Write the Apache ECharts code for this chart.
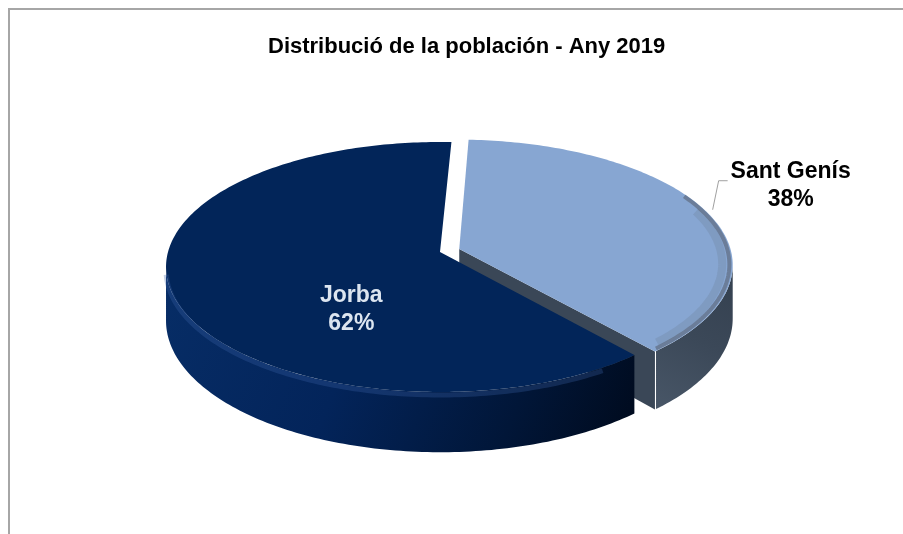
<!DOCTYPE html>
<html><head><meta charset="utf-8">
<script src="https://cdn.jsdelivr.net/npm/echarts@6/dist/echarts.min.js"></script>
<style>html,body{margin:0;padding:0;background:#fff}#c{width:903px;height:534px}</style>
</head><body><div id="c"></div>
<script>
// ---- data ----
const titleText = 'Distribució de la población - Any 2019';
const categories = ['Jorba', 'Sant Genís'];
const values = [62, 38];

// ---- styling / layout (not data) ----
const explodeFlags = [0, 1];
const labelPlacement = ['inside', 'outside'];
const FONT = "'Liberation Sans', Arial, sans-serif";
const G = {cx: 440, cy: 252, A: 272, B: 123.2, k: 0.12, D: 53, startDeg: 49.5, explode: 0.075};
const topColors = ['#022559', '#87A6D2'];
const sideColors = [
  [[0, '#072d66'], [0.4, '#03245a'], [0.75, '#011638'], [1, '#000a1c']],
  [[0, '#34404f'], [0.5, '#3b4858'], [1, '#485667']]
];
const cutColors = ['#021c45', '#3a4757'];

const total = values.reduce((s, v) => s + v, 0);
const rad = d => d * Math.PI / 180;
function proj(X, Y, down) {
  const w = 1 / (1 - G.k * Y);
  return [G.cx + G.A * X * w, G.cy + G.B * Y * w + (down ? G.D * w : 0)];
}
function arcPts(ox, oy, a0, a1, r, down) {
  const pts = [];
  const n = Math.max(2, Math.ceil(Math.abs(a1 - a0)));
  for (let j = 0; j <= n; j++) {
    const a = rad(a0 + (a1 - a0) * j / n);
    pts.push(proj(ox + r * Math.cos(a), oy + r * Math.sin(a), down));
  }
  return pts;
}

function renderItem(params, api) {
  const i = params.dataIndex;
  let cum = 0;
  for (let j = 0; j < i; j++) cum += values[j];
  const a0 = G.startDeg + 360 * cum / total;
  const a1 = a0 + 360 * values[i] / total;
  const mid = (a0 + a1) / 2;
  const e = explodeFlags[i] * G.explode;
  const ox = e * Math.cos(rad(mid)), oy = e * Math.sin(rad(mid));
  const children = [];

  // cut face at end angle (faces viewer when cos(a1) > 0)
  if (Math.cos(rad(a1)) > 0.15) {
    const c = Math.cos(rad(a1)), s = Math.sin(rad(a1));
    children.push({
      type: 'polygon', z2: 1,
      shape: {points: [proj(ox, oy, false), proj(ox + c, oy + s, false), proj(ox + c, oy + s, true), proj(ox, oy, true)]},
      style: {fill: cutColors[i]}
    });
  }
  // outer wall visible part
  const sk = Math.asin(G.k) * 180 / Math.PI;
  let ws = null, we = null;
  for (let a = a0; a <= a1 + 1e-6; a += 0.5) {
    const m = ((a % 360) + 360) % 360;
    if (m >= sk && m <= 180 - sk) { if (ws === null) ws = a; we = a; }
  }
  if (ws !== null && we > ws) {
    const topArc = arcPts(ox, oy, ws, we, 1, false);
    const botArc = arcPts(ox, oy, ws, we, 1, true).reverse();
    const all = topArc.concat(botArc);
    const xs = all.map(p => p[0]), ys = all.map(p => p[1]);
    const minX = Math.min(...xs), maxX = Math.max(...xs), minY = Math.min(...ys), maxY = Math.max(...ys);
    children.push({
      type: 'polygon', z2: 2,
      shape: {points: all},
      style: {fill: {type: 'linear', global: true,
        x: i === 0 ? minX : maxX, y: minY, x2: i === 0 ? maxX : minX, y2: maxY,
        colorStops: sideColors[i].map(s => ({offset: s[0], color: s[1]}))}}
    });
    if (i === 0) {
      children.push({
        type: 'polyline', z2: 4,
        shape: {points: arcPts(ox, oy, ws + 8, we - 2, 1, false).map(p => [p[0], p[1] + 3])},
        style: {fill: null, stroke: 'rgba(60,100,170,0.3)', lineWidth: 5}
      });
    }
  }
  // top face
  const topPts = [proj(ox, oy, false)].concat(arcPts(ox, oy, a0, a1, 1, false));
  children.push({type: 'polygon', z2: 3, shape: {points: topPts}, style: {fill: topColors[i]}});
  if (i === 1) {
    // bevel shading along the right/front rim
    children.push({
      type: 'polyline', z2: 4,
      shape: {points: arcPts(ox, oy, a0 + 68, a1 - 3, 0.962, false)},
      style: {fill: null, stroke: 'rgba(110,128,155,0.3)', lineWidth: 8}
    });
    children.push({
      type: 'polyline', z2: 4,
      shape: {points: arcPts(ox, oy, a0 + 60, a1 - 1, 0.988, false)},
      style: {fill: null, stroke: 'rgba(95,108,128,0.7)', lineWidth: 4}
    });
  }

  // label
  const pct = Math.round(values[i] / total * 100) + '%';
  const mc = Math.cos(rad(mid)), ms = Math.sin(rad(mid));
  if (labelPlacement[i] === 'inside') {
    const p = proj(0.34 * mc, 0.34 * ms, false);
    children.push({
      type: 'text', z2: 10,
      x: p[0], y: p[1] + G.D * 0.83,
      style: {text: categories[i] + '\n' + pct, fill: '#dce5f0', font: 'bold 23px ' + FONT,
        align: 'center', verticalAlign: 'middle', lineHeight: 28}
    });
  } else {
    const L0 = proj(ox + 1.03 * mc, oy + 1.03 * ms, false);
    const L1 = [L0[0] + 6, L0[1] - 29];
    const L2 = [L1[0] + 9, L1[1]];
    children.push({
      type: 'polyline', z2: 10,
      shape: {points: [L0, L1, L2]},
      style: {fill: null, stroke: '#a0a0a0', lineWidth: 1}
    });
    children.push({
      type: 'text', z2: 10,
      x: L2[0] + 63, y: L2[1] + 5,
      style: {text: categories[i] + '\n' + pct, fill: '#000000', font: 'bold 23px ' + FONT,
        align: 'center', verticalAlign: 'middle', lineHeight: 28}
    });
  }
  return {type: 'group', children: children};
}

const chart = echarts.init(document.getElementById('c'), null, {renderer: 'canvas'});
chart.setOption({
  animation: false,
  backgroundColor: '#ffffff',
  title: {
    text: titleText, left: 263, top: 31,
    textStyle: {fontFamily: FONT, fontWeight: 'bold', fontSize: 22, color: '#000000'}
  },
  graphic: [{
    type: 'rect', silent: true,
    shape: {x: 9, y: 9, width: 1000, height: 1000},
    style: {fill: null, stroke: '#a6a6a6', lineWidth: 2}
  }],
  series: [{
    type: 'custom',
    coordinateSystem: 'none',
    renderItem: renderItem,
    data: values.map((v, i) => ({name: categories[i], value: v}))
  }]
});
</script>
</body></html>
